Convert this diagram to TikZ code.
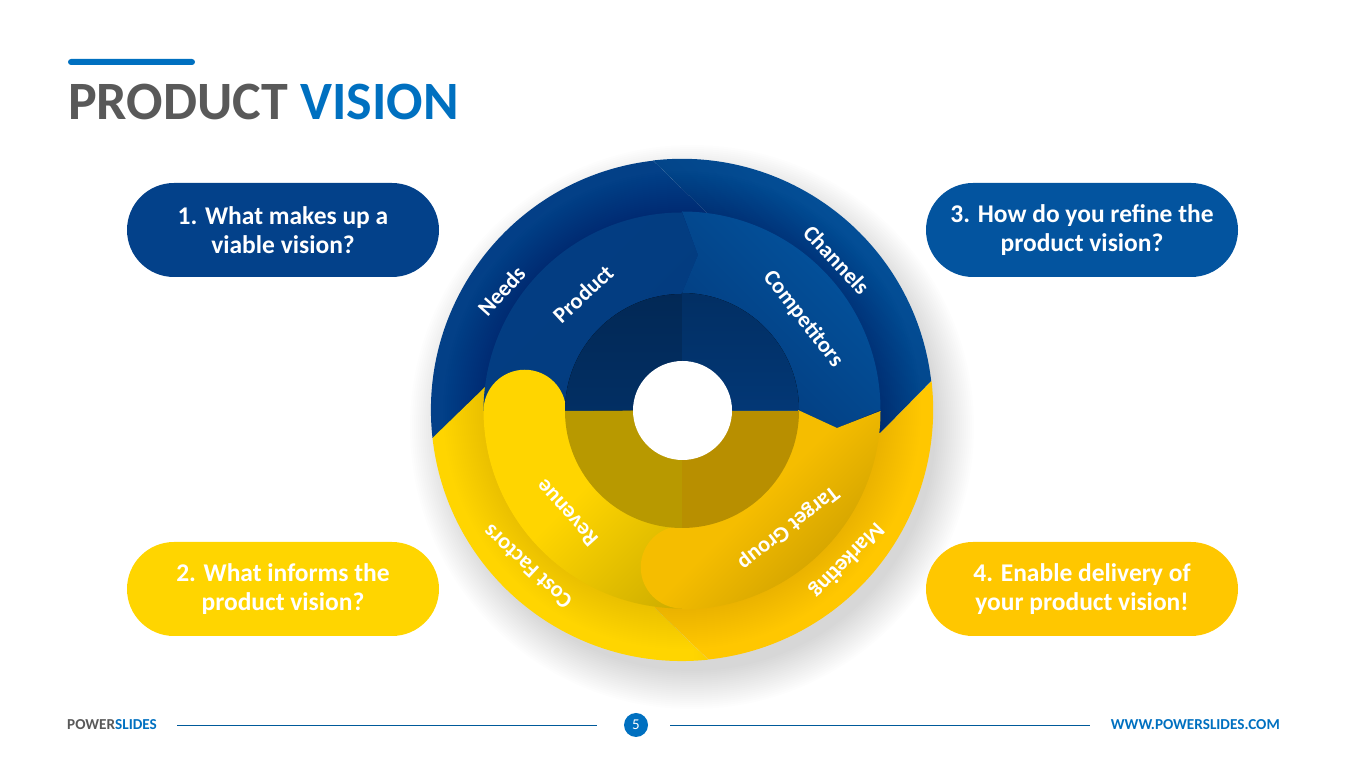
\documentclass[tikz,border=0pt]{standalone}
\usepackage{fontspec}
\setmainfont{Carlito}
\usetikzlibrary{shapes.misc}
\definecolor{darkgrey}{HTML}{595959}
\definecolor{slideblue}{HTML}{0070C0}
\definecolor{navyone}{HTML}{03418A}
\definecolor{navytwo}{HTML}{03549F}
\definecolor{goldone}{HTML}{FFD500}
\definecolor{goldtwo}{HTML}{FFC700}
\definecolor{revenueend}{HTML}{C2A400}
\definecolor{targetstart}{HTML}{F5BD00}
\definecolor{targetend}{HTML}{CFA100}
\pgfdeclarehorizontalshading{costshade}{100bp}{color(0bp)=(goldone); color(72bp)=(goldone); color(100bp)=(goldone!80!black)}
\pgfdeclarehorizontalshading{revenueshade}{100bp}{color(0bp)=(goldone); color(50bp)=(goldone); color(92bp)=(revenueend); color(100bp)=(revenueend)}
\pgfdeclarehorizontalshading{targetshade}{100bp}{color(0bp)=(targetstart); color(48bp)=(targetstart); color(72bp)=(targetend); color(100bp)=(targetend)}
\tikzset{
    pill/.style={rounded rectangle, rounded rectangle arc length=180, minimum width=312pt, minimum height=94pt, inner sep=0pt, align=center, text=white, font=\fontsize{25.5}{29}\selectfont\bfseries, execute at begin node={\rule{0pt}{24pt}}},
    spoke/.style={text=white, font=\fontsize{22.5}{28}\selectfont\bfseries, inner sep=0pt},
    footline/.style={draw=slideblue!80!black, line width=0.9pt},
    footer/.style={font=\fontsize{15.2}{18}\selectfont\bfseries, inner sep=0pt}
}
\begin{document}
\begin{tikzpicture}[x=1pt, y=1pt]
    \useasboundingbox (0,0) rectangle (1365,767);
    \fill[slideblue, rounded corners=3pt] (68,702) rectangle (195,708);
    \node[anchor=west, inner sep=0pt, font=\fontsize{54}{60}\selectfont\bfseries] (title) at (68,665) {\textcolor{darkgrey}{PRODUCT} \textcolor{slideblue}{VISION}};
    \foreach \r in {244,246,...,282} \fill[black, opacity=0.007] (692,340) circle (\r);
    \node[pill, fill=navyone] (pillone) at (283,537) {1. What makes up a\\viable vision?};
    \node[pill, fill=goldone] (pilltwo) at (283,178) {2. What informs the\\product vision?};
    \node[pill, fill=navytwo] (pillthree) at (1082,537) {3. How do you refine the\\product vision?};
    \node[pill, fill=goldtwo] (pillfour) at (1082,178) {4. Enable delivery of\\your product vision!};
    \begin{scope}[shift={(682,357)}]
        \shade[left color=navyone!97!black, right color=navyone, shading angle=45] (-249.5,-28) arc[start angle=186.4, end angle=96.6, radius=251] -- (25,197) -- (0,0) -- cycle;
        \shade[shading=costshade] (-197,23) -- (-249.5,-28) arc[start angle=186.4, end angle=276, radius=251] -- (-27,-198) -- (0,0) -- cycle;
        \fill[goldtwo] (249.5,29) arc[start angle=6.6, end angle=-84, radius=251] -- (-27,-198) -- (0,0) -- (198,-23) -- cycle;
        \shade[left color=navytwo, right color=navyone!85!black, shading angle=-45] (-29,249.5) arc[start angle=96.6, end angle=6.6, radius=251] -- (198,-23) -- (0,0) -- (25,197) -- cycle;
        \foreach \r in {199,201,...,239} \fill[black, opacity=0.004] (0,0) circle (\r);
        \shade[left color=navyone!95!black, right color=navyone!92!black, shading angle=45] (-198.5,-1) arc[start angle=180, end angle=90, radius=198.5] -- (16,155) -- (0,117) -- (0,0) -- cycle;
        \shade[left color=navytwo, right color=navyone!90!black, shading angle=-45] (0,198.5) arc[start angle=90, end angle=0, radius=198.5] -- (155,-18) -- (117,-1) -- (0,-1) -- (0,117) -- (16,155) -- cycle;
        \shade[shading=revenueshade, shading angle=-45] (-198.5,-1) arc[start angle=180, end angle=0, radius=41.25] arc[start angle=180, end angle=270, radius=116] -- (0,-198.5) arc[start angle=270, end angle=180, radius=198.5] -- cycle;
        \shade[shading=targetshade, shading angle=-45] (0,-198.5) arc[start angle=270, end angle=90, radius=41.25] arc[start angle=270, end angle=360, radius=116] -- (155,-18) -- (198.5,-1) arc[start angle=0, end angle=-90, radius=198.5] -- cycle;
        \fill[left color=navyone!62!black, right color=navyone!72!black, shading angle=0] (0,0) -- (-117,-1) arc[start angle=180, end angle=90, radius=117] -- cycle;
        \fill[left color=navyone!72!black, right color=navyone!85!black, shading angle=0] (0,0) -- (0,117) arc[start angle=90, end angle=0, radius=117] -- cycle;
        \fill[goldone!72!black] (0,-1) -- (-117,-1) arc[start angle=180, end angle=270, radius=117] -- cycle;
        \fill[goldtwo!72!black] (0,-1) -- (0,-118) arc[start angle=270, end angle=360, radius=117] -- cycle;
        \fill[white] (0.5,-0.5) circle (49.5);
        \node[spoke, rotate=48] (needs) at (-180.5,119) {Needs};
        \node[spoke, rotate=43] (product) at (-99,116) {Product};
        \node[spoke, rotate=-47] (channels) at (154.5,150) {Channels};
        \node[spoke, rotate=-52] (competitors) at (121,91) {Competitors};
        \node[spoke, rotate=132] (revenue) at (-115,-103) {Revenue};
        \node[spoke, rotate=137] (costfactors) at (-154.5,-157) {Cost Factors};
        \node[spoke, rotate=218] (targetgroup) at (106,-117.5) {Target Group};
        \node[spoke, rotate=226] (marketing) at (164.5,-150) {Marketing};
    \end{scope}
    \node[footer, anchor=west] (brand) at (67,42) {\textcolor{darkgrey}{POWER}\textcolor{slideblue}{SLIDES}};
    \node[circle, fill=slideblue, minimum size=24pt, inner sep=0pt, text=white, font=\fontsize{15}{18}\selectfont] (pagenum) at (636,42) {5};
    \node[footer, anchor=east, text=slideblue] (website) at (1280,42) {WWW.POWERSLIDES.COM};
    \draw[footline, shorten <=20pt, shorten >=27pt] (brand) -- (pagenum);
    \draw[footline, shorten <=22pt, shorten >=21pt] (pagenum) -- (website);
\end{tikzpicture}
\end{document}
